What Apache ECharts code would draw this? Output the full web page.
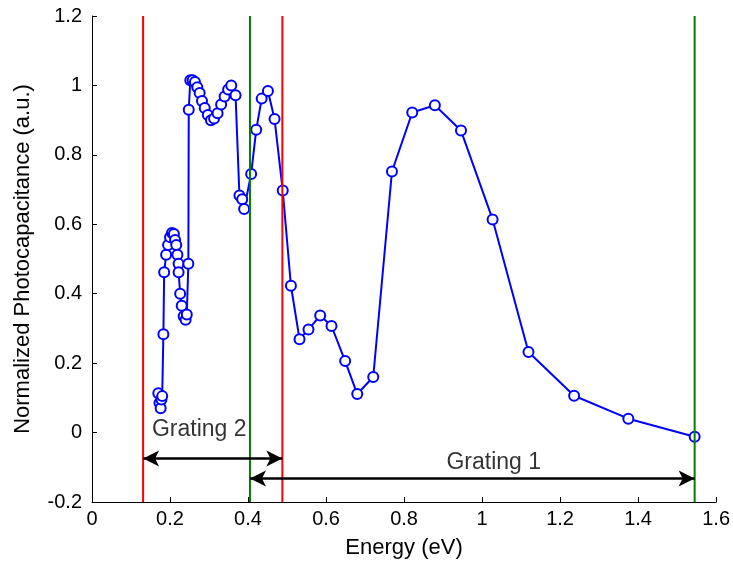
<!DOCTYPE html>
<html><head><meta charset="utf-8">
<script src="https://cdn.jsdelivr.net/npm/echarts@6/dist/echarts.min.js"></script>
<style>html,body{margin:0;padding:0;background:#fff}#c{width:733px;height:567px}</style>
</head><body><div id="c"></div><script>
// Energy (eV) and normalized photocapacitance, in plotting order
const energy = [0.170,0.173,0.176,0.178,0.180,0.183,0.185,0.190,0.195,0.200,0.205,0.210,0.213,0.216,0.219,0.222,0.222,0.226,0.230,0.235,0.240,0.243,0.247,0.248,0.252,0.258,0.264,0.270,0.276,0.282,0.289,0.297,0.305,0.313,0.322,0.331,0.340,0.349,0.357,0.368,0.378,0.385,0.390,0.408,0.421,0.435,0.451,0.468,0.489,0.510,0.532,0.555,0.585,0.614,0.649,0.680,0.721,0.769,0.821,0.879,0.946,1.027,1.119,1.236,1.375,1.545];
const photocap = [0.113,0.085,0.070,0.095,0.105,0.283,0.462,0.512,0.540,0.563,0.575,0.572,0.555,0.540,0.512,0.486,0.462,0.400,0.365,0.335,0.325,0.340,0.486,0.930,1.015,1.015,1.010,0.995,0.978,0.955,0.935,0.915,0.900,0.905,0.920,0.945,0.968,0.988,1.000,0.972,0.683,0.672,0.644,0.745,0.872,0.962,0.984,0.903,0.697,0.423,0.269,0.297,0.337,0.307,0.206,0.111,0.160,0.752,0.922,0.943,0.870,0.614,0.232,0.106,0.040,-0.012];
const redLinesX = [0.131, 0.488];
const greenLinesX = [0.405, 1.545];
const gratingLabels = ['Grating 2', 'Grating 1'];
const arrowStart = [0.131, 0.405];
const arrowEnd = [0.488, 1.545];
const arrowY = [-0.075, -0.132];
const labelX = [0.275, 1.03];
const labelY = [0.008, -0.088];
const xTicks = {min: 0, max: 1.6, interval: 0.2};
const yTicks = {min: -0.2, max: 1.2, interval: 0.2};

const FONT = 'Liberation Sans, Arial, sans-serif';
const chart = echarts.init(document.getElementById('c'), null, {renderer: 'canvas'});
const series = [];
series.push({
  type: 'line', data: energy.map((e, i) => [e, photocap[i]]),
  symbol: 'emptyCircle', symbolSize: 10, showAllSymbol: true,
  lineStyle: {color: '#0000ff', width: 2}, itemStyle: {color: '#0000ff', borderWidth: 1.6},
  animation: false, z: 2
});
redLinesX.forEach(x => series.push({type: 'line', data: [[x, yTicks.min], [x, yTicks.max]], symbol: 'none',
  lineStyle: {color: '#ff0000', width: 2}, animation: false, z: 3}));
greenLinesX.forEach(x => series.push({type: 'line', data: [[x, yTicks.min], [x, yTicks.max]], symbol: 'none',
  lineStyle: {color: '#008000', width: 2}, animation: false, z: 3}));
gratingLabels.forEach((name, i) => {
  series.push({
    type: 'line', data: [], animation: false, z: 4,
    markLine: {
      silent: true, animation: false,
      symbol: ['arrow', 'arrow'], symbolSize: [12, 16],
      lineStyle: {color: '#000', width: 2.5, type: 'solid'},
      label: {show: false},
      data: [[{coord: [arrowStart[i], arrowY[i]]}, {coord: [arrowEnd[i], arrowY[i]]}]]
    }
  });
  series.push({
    type: 'scatter', data: [[labelX[i], labelY[i]]], symbolSize: 0, animation: false, z: 4,
    label: {show: true, position: 'inside', formatter: name, color: '#000', fontFamily: FONT, fontSize: 23}
  });
});

chart.setOption({
  backgroundColor: '#fff',
  grid: {left: 92, right: 15, top: 16, bottom: 65, containLabel: false},
  xAxis: {
    type: 'value', min: xTicks.min, max: xTicks.max, interval: xTicks.interval,
    name: 'Energy (eV)', nameLocation: 'middle', nameGap: 35,
    nameTextStyle: {color: '#000', fontFamily: FONT, fontSize: 22},
    axisLine: {show: true, onZero: false, lineStyle: {color: '#000', width: 1}},
    axisTick: {show: true, inside: true, length: 5, lineStyle: {color: '#000'}},
    axisLabel: {color: '#000', fontFamily: FONT, fontSize: 20, margin: 7},
    splitLine: {show: false}
  },
  yAxis: {
    type: 'value', min: yTicks.min, max: yTicks.max, interval: yTicks.interval,
    name: 'Normalized Photocapacitance (a.u.)', nameLocation: 'middle', nameGap: 58,
    nameTextStyle: {color: '#000', fontFamily: FONT, fontSize: 22},
    axisLine: {show: true, onZero: false, lineStyle: {color: '#000', width: 1}},
    axisTick: {show: true, inside: true, length: 5, lineStyle: {color: '#000'}},
    axisLabel: {color: '#000', fontFamily: FONT, fontSize: 20, margin: 10},
    splitLine: {show: false}
  },
  series: series
});
</script></body></html>
